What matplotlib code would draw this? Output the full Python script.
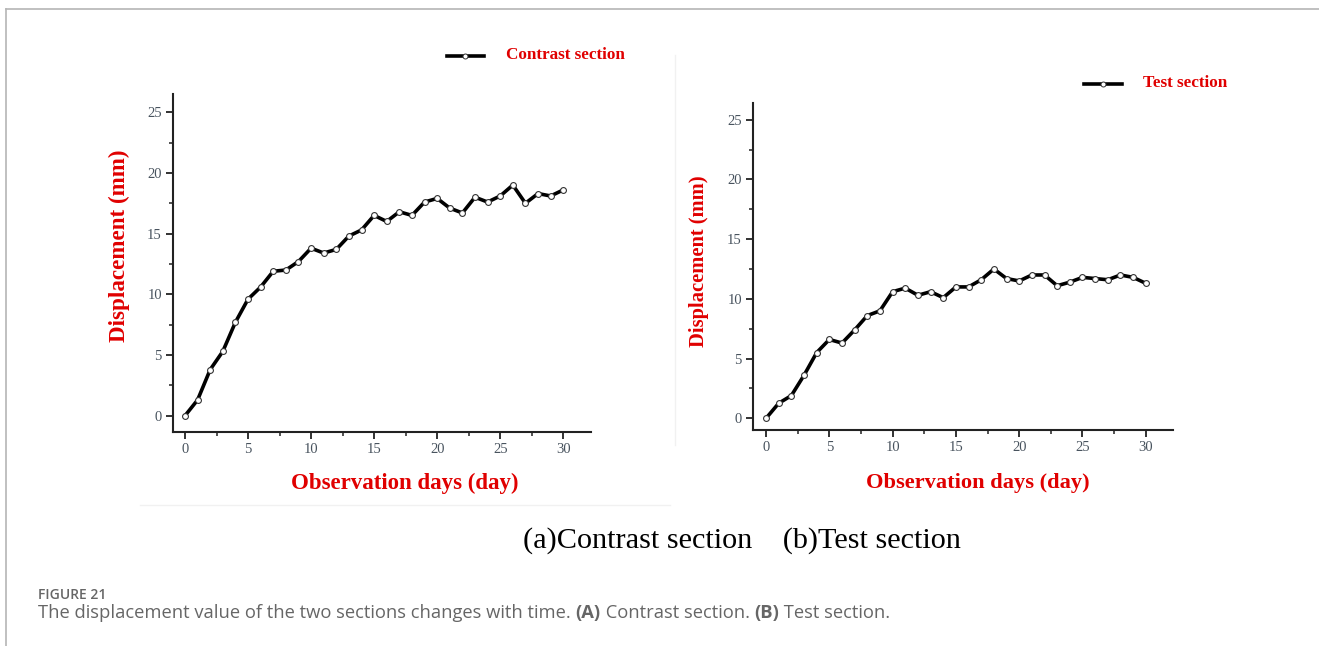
import matplotlib
matplotlib.use("Agg")
import matplotlib.pyplot as plt
from matplotlib.lines import Line2D
from matplotlib.ticker import MultipleLocator

# Observation days and measured displacement (mm)
days = list(range(31))
contrast_disp = [0.0, 1.3, 3.8, 5.3, 7.7, 9.6, 10.6, 11.9, 12.0, 12.7, 13.8,
                 13.4, 13.7, 14.8, 15.3, 16.5, 16.0, 16.8, 16.5, 17.6, 17.9,
                 17.1, 16.7, 18.0, 17.6, 18.1, 19.0, 17.5, 18.3, 18.1, 18.6]
test_disp = [0.0, 1.26, 1.9, 3.6, 5.5, 6.6, 6.3, 7.4, 8.6, 9.0, 10.6,
             10.9, 10.3, 10.6, 10.1, 11.0, 11.0, 11.6, 12.5, 11.7, 11.5,
             12.0, 12.0, 11.1, 11.4, 11.8, 11.7, 11.6, 12.0, 11.8, 11.3]
x_ticks = [0, 5, 10, 15, 20, 25, 30]
y_ticks = [0, 5, 10, 15, 20, 25]

W, H = 1319, 646
fig = plt.figure(figsize=(W / 100, H / 100), dpi=100)
fig.patch.set_facecolor("white")

SERIF = ["Liberation Serif", "DejaVu Serif"]
RED = "#e00000"
TICK_COLOR = "#48535e"


def px_rect(x0, y0, x1, y1):
    return [x0 / W, 1 - y1 / H, (x1 - x0) / W, (y1 - y0) / H]


def fx(px):
    return px / W


def fy(py):
    return 1 - py / H


# Page frame: thin grey rule on top and left
fig.add_artist(Line2D([fx(6), 1.0], [fy(9), fy(9)], color="#b5b5b5", lw=1.2))
fig.add_artist(Line2D([fx(6), fx(6)], [fy(9), fy(646)], color="#b5b5b5", lw=1.2))
# Faint edges of the two panels
fig.add_artist(Line2D([fx(140), fx(670)], [fy(505), fy(505)], color="#f1f1f1", lw=1))
fig.add_artist(Line2D([fx(675), fx(675)], [fy(55), fy(445)], color="#f1f1f1", lw=1))


def draw_panel(rect, values, xlim, ylim, ylab_x, ylab_y, ylab_size,
               xlab_x, xlab_y, xlab_size, leg_x0, leg_x1, leg_y, leg_tx, label):
    ax = fig.add_axes(px_rect(*rect))
    ax.plot(days, values, color="black", lw=2.6, marker="o", ms=4.2,
            mfc="white", mec="#333333", mew=0.8, zorder=3)
    ax.set_xlim(*xlim)
    ax.set_ylim(*ylim)
    ax.set_xticks(x_ticks)
    ax.set_yticks(y_ticks)
    ax.xaxis.set_minor_locator(MultipleLocator(2.5))
    ax.yaxis.set_minor_locator(MultipleLocator(2.5))
    for s in ("top", "right"):
        ax.spines[s].set_visible(False)
    for s in ("left", "bottom"):
        ax.spines[s].set_linewidth(1.5)
        ax.spines[s].set_color("#222222")
    ax.tick_params(which="major", direction="out", length=5, width=1.3,
                   colors="#222222", labelcolor=TICK_COLOR, labelsize=10.5, pad=3)
    ax.tick_params(which="minor", direction="out", length=3, width=1.1,
                   colors="#222222")
    for t in ax.get_xticklabels() + ax.get_yticklabels():
        t.set_fontfamily(SERIF)
    fig.text(fx(ylab_x), fy(ylab_y), "Displacement (mm)", rotation=90,
             ha="center", va="center", color=RED, fontsize=ylab_size,
             fontweight="bold", family=SERIF)
    fig.text(fx(xlab_x), fy(xlab_y), "Observation days (day)", ha="center",
             va="center", color=RED, fontsize=xlab_size, fontweight="bold",
             family=SERIF)
    # Legend entry
    fig.add_artist(Line2D([fx(leg_x0), fx((leg_x0 + leg_x1) / 2), fx(leg_x1)],
                          [fy(leg_y)] * 3, color="black", lw=2.6, marker="o",
                          ms=3.6, mfc="white", mec="#333333", mew=0.7,
                          markevery=[1]))
    fig.text(fx(leg_tx), fy(leg_y - 1), label, ha="left", va="center",
             color=RED, fontsize=12.3, fontweight="bold", family=SERIF)
    return ax


draw_panel((173, 94, 591, 432), contrast_disp, (-0.95, 32.2), (-1.34, 26.5),
           119, 246, 16.6, 405, 483, 16.5, 447, 484, 56, 506, "Contrast section")
draw_panel((753, 103, 1173, 430), test_disp, (-1.03, 32.15), (-0.98, 26.4),
           699, 261, 14.8, 978, 483, 16.1, 1084, 1122, 84, 1143, "Test section")

fig.text(fx(742), fy(541), "(a)Contrast section    (b)Test section",
         ha="center", va="center", color="black", fontsize=21.8, family=SERIF)

SANS = ["Open Sans", "DejaVu Sans"]
fig.text(fx(38), fy(595), "FIGURE 21", ha="left", va="center",
         color="#666666", fontsize=10, fontweight="semibold", family=SANS)
cap_y = fy(613)
parts = [("The displacement value of the two sections changes with time. ", "normal"),
         ("(A)", "bold"), (" Contrast section. ", "normal"),
         ("(B)", "bold"), (" Test section.", "normal")]
renderer = fig.canvas.get_renderer()
x = fx(38)
for txt, wt in parts:
    t = fig.text(x, cap_y, txt, ha="left", va="center", color="#666666",
                 fontsize=13.2, fontweight=wt, family=SANS)
    bb = t.get_window_extent(renderer=renderer)
    x += bb.width / W

fig.savefig("out.png", dpi=100, facecolor="white")
